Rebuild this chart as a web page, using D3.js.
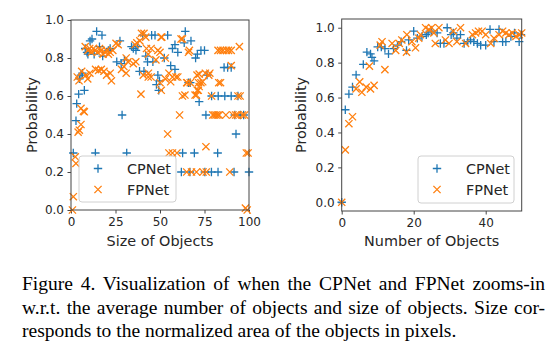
<!DOCTYPE html>
<html><head><meta charset="utf-8">
<script src="https://cdn.jsdelivr.net/npm/d3@7"></script>
<style>body{margin:0;background:#fff} svg{display:block}</style>
</head><body><svg id="c" width="557" height="350"></svg>
<script>
// ---------- DATA ----------
const seriesNames = ["CPNet", "FPNet"];
const sizeTicksX = [0, 25, 50, 75, 100];
const numTicksX = [0, 20, 40];
const probTicks = [0, 0.2, 0.4, 0.6, 0.8, 1.0];

// Left panel: Size of Objects vs Probability
const sizeCPNet = [[2.8,0.47],[3.2,0.56],[4.3,0.61],[7.5,0.63],[4.7,0.69],[5.6,0.71],[6.4,0.72],[8,0.85],[9,0.83],[9.5,0.82],
[10.7,0.89],[11.8,0.90],[14.4,0.94],[17.4,0.92],[13,0.82],[16,0.86],[17.8,0.81],[21,0.84],[22,0.85],[25.7,0.78],
[28.2,0.77],[27.5,0.89],[28.7,0.50],[30,0.79],[34,0.86],[35,0.85],[36.5,0.84],[37.5,0.86],[38.5,0.73],[41,0.73],
[40.3,0.92],[42,0.81],[43,0.78],[45.3,0.92],[47.2,0.92],[46,0.78],[48,0.66],[49.3,0.63],[48.8,0.71],[49.7,0.68],
[52.4,0.80],[54.3,0.92],[56,0.76],[57,0.85],[58.4,0.87],[58.4,0.74],[60,0.83],[63.6,0.88],[64.2,0.94],[66,0.67],
[67,0.67],[67.4,0.89],[70,0.80],[71,0.82],[72,0.57],[73,0.84],[75,0.84],[76.4,0.71],[79,0.60],[82.7,0.60],
[86.4,0.60],[90,0.60],[93.8,0.60],[86,0.75],[88,0.75],[90,0.75],[75.8,0.50],[92,0.50],[95.2,0.50],[97,0.50],
[92.7,0.40],[1.3,0.30],[13.7,0.30],[31.3,0.30],[62.7,0.30],[69.3,0.30],[82.4,0.30],[62,0.20],[66.8,0.20],[75.2,0.20],
[78.9,0.20],[82.6,0.20],[91.6,0.20],[100,0.20]];

const sizeFPNet = [[0.8,0.0],[1.3,0.07],[2.4,0.28],[2.8,0.245],[4,0.41],[4.7,0.42],[5.6,0.45],[7,0.52],[5.6,0.535],[7.5,0.517],
[3.5,0.70],[4.5,0.68],[6,0.73],[8.4,0.71],[9.4,0.69],[10.6,0.72],
[8,0.86],[9.5,0.84],[10.5,0.85],[11.5,0.83],[12.5,0.85],[13.5,0.84],[15,0.83],[16,0.85],[17,0.84],[18,0.82],[19,0.83],[20,0.84],[21,0.82],[22,0.83],[23.5,0.84],
[13.8,0.74],[15.5,0.735],[17,0.74],[18.5,0.73],[20,0.71],[22,0.72],[22.7,0.68],[25.3,0.877],[26.5,0.87],[28.4,0.74],
[29.7,0.755],[31,0.72],[31,0.80],[32,0.78],[35,0.77],[36.4,0.78],[36,0.87],[37,0.88],[38.7,0.89],[39.6,0.93],
[41,0.93],[42,0.91],[42.4,0.85],[43.4,0.82],[45,0.85],[39.3,0.61],[40.6,0.71],[43.4,0.70],[43.5,0.72],[45,0.70],
[47.7,0.79],[50,0.83],[50.6,0.91],[51,0.91],[48.8,0.84],[50,0.67],[50.7,0.63],[53,0.80],[53,0.69],[55,0.72],
[56,0.675],[57,0.70],[59,0.70],[60,0.70],[61.8,0.90],[62.6,0.90],[66.5,0.84],[66,0.83],[61,0.50],[62.6,0.60],
[64,0.605],[65,0.67],[65.3,0.67],[67,0.67],[69.7,0.605],[70.5,0.605],[71,0.63],[71.5,0.63],[72,0.65],[71.7,0.67],
[73,0.67],[74,0.675],[70.8,0.71],[72,0.715],[75.5,0.72],[77.4,0.71],[78,0.72],[79,0.60],[83,0.67],[84,0.67],
[82.6,0.84],[84,0.84],[85.4,0.84],[87.3,0.84],[88.5,0.84],[90,0.84],[94.6,0.86],[90,0.76],[93.8,0.60],[95,0.60],
[79.6,0.50],[80.5,0.50],[81.5,0.50],[82.5,0.50],[83.3,0.50],[87,0.50],[91,0.50],[92.5,0.50],[93.5,0.50],[96.3,0.50],[97.5,0.50],
[54.3,0.40],[55,0.30],[57,0.30],[59.5,0.30],[75.8,0.333],[98.5,0.30],[99.5,0.30],
[65,0.20],[67.7,0.20],[70.5,0.20],[74.2,0.20],[76,0.20],[89.2,0.20],[98,0.01],[99,0.0]];

// Right panel: Number of Objects vs Probability
const numCPNet = [[0,0],[1,0.53],[2,0.62],[3,0.66],[4,0.73],[6,0.79],[7,0.86],[8,0.85],[8.4,0.83],[9,0.81],
[10,0.89],[11,0.89],[12,0.88],[13,0.85],[14.4,0.88],[15.5,0.90],[16.5,0.92],[18,0.87],[18.6,0.93],[20,0.98],
[21,0.94],[22.3,0.95],[23.5,0.96],[24,0.97],[25,0.98],[26.5,0.97],[27.4,0.91],[28.4,0.91],[29.3,1.0],[30.4,0.96],
[31,0.97],[32,0.94],[33,0.96],[34,0.91],[35,0.92],[35.8,0.93],[36.7,0.92],[37.7,0.91],[38.6,0.90],[40,0.90],
[41.2,0.99],[42.3,0.92],[43.7,0.99],[44.7,0.92],[45.6,0.92],[47,0.95],[48,0.97],[49.3,0.92],[49.8,0.96]];

const numFPNet = [[0,0],[1,0.30],[2,0.45],[3,0.49],[4,0.65],[5,0.69],[5.6,0.63],[6.8,0.66],[8,0.65],[9,0.67],
[7.7,0.78],[10.7,0.90],[11.2,0.92],[12,0.76],[14,0.91],[15,0.87],[16,0.91],[16.7,0.93],[18,0.86],[18.1,0.96],
[19.5,0.92],[20.5,0.885],[21.4,0.94],[21.9,0.96],[23.3,1.0],[24.2,0.99],[25,1.0],[25.6,0.97],[26,0.91],[27,1.0],
[28.8,0.93],[29.8,0.91],[31,0.98],[33,1.0],[32,0.92],[34.4,0.91],[36.3,0.96],[37.2,0.97],[38,0.98],[39,0.98],
[40,0.96],[41.4,0.91],[42.3,0.94],[43.7,0.96],[44.7,0.98],[45.6,0.97],[46.5,0.96],[47.4,0.97],[48.4,0.95],[49.3,0.96],[50,0.97]];

const captionLines = [
  "Figure 4. Visualization of when the CPNet and FPNet zooms-in",
  "w.r.t. the average number of objects and size of objects. Size cor-",
  "responds to the normalized area of the objects in pixels."
];

// ---------- DRAW ----------
const svg = d3.select("#c");
const colors = ["#1f77b4", "#ff7f0e"];
const plusPath = "M-4.2,0H4.2M0,-4.2V4.2";
const crossPath = "M-3.6,-3.6L3.6,3.6M-3.6,3.6L3.6,-3.6";
const font = "DejaVu Sans, sans-serif";

function panel(o) {
  const x = d3.scaleLinear().domain(o.xDomain).range([o.left, o.right]);
  const y = d3.scaleLinear().domain(o.yDomain).range([o.bottom, o.top]);
  const g = svg.append("g");

  const ax = g.append("g").attr("transform", `translate(0,${o.bottom})`)
    .call(d3.axisBottom(x).tickValues(o.xTicks).tickSize(3.5).tickPadding(3.5).tickFormat(d3.format("d")));
  const ay = g.append("g").attr("transform", `translate(${o.left},0)`)
    .call(d3.axisLeft(y).tickValues(probTicks).tickSize(3.5).tickPadding(3.5).tickFormat(d3.format(".1f")));
  [ax, ay].forEach(a => {
    a.select(".domain").remove();
    a.selectAll("line").attr("stroke", "#333").attr("stroke-width", 0.9);
    a.selectAll("text").attr("fill", "#262626").style("font-family", font).style("font-size", "12px");
  });

  const pts = g.append("g");
  [o.cp, o.fp].forEach((data, i) => {
    pts.selectAll(null).data(data).enter().append("path")
      .attr("d", i === 0 ? plusPath : crossPath)
      .attr("transform", d => `translate(${x(d[0])},${y(d[1])})`)
      .attr("fill", "none").attr("stroke", colors[i]).attr("stroke-width", 1.3);
  });

  g.append("rect").attr("x", o.left).attr("y", o.top)
    .attr("width", o.right - o.left).attr("height", o.bottom - o.top)
    .attr("fill", "none").attr("stroke", "#444").attr("stroke-width", 1);

  // legend
  const L = o.legend;
  const lg = g.append("g");
  lg.append("rect").attr("x", L.x).attr("y", L.y).attr("width", L.w).attr("height", L.h)
    .attr("rx", 3).attr("fill", "white").attr("fill-opacity", 0.8)
    .attr("stroke", "#d0d0d0").attr("stroke-width", 1);
  seriesNames.forEach((n, i) => {
    const yy = L.y + 12.5 + i * 21;
    lg.append("path").attr("d", i === 0 ? plusPath : crossPath)
      .attr("transform", `translate(${L.x + 19},${yy})`)
      .attr("fill", "none").attr("stroke", colors[i]).attr("stroke-width", 1.3);
    lg.append("text").attr("x", L.x + 48).attr("y", yy).attr("dy", "0.36em")
      .attr("fill", "#262626").style("font-family", font).style("font-size", "14.4px").text(n);
  });

  g.append("text").attr("x", (o.left + o.right) / 2).attr("y", 246)
    .attr("text-anchor", "middle").attr("fill", "#262626")
    .style("font-family", font).style("font-size", "14.4px").text(o.xLabel);
  g.append("text").attr("transform", `translate(${o.ylabX},${(o.top + o.bottom) / 2}) rotate(-90)`)
    .attr("text-anchor", "middle").attr("fill", "#262626")
    .style("font-family", font).style("font-size", "14.4px").text("Probability");
}

panel({ left: 71, right: 249, top: 20, bottom: 210, xDomain: [0, 100], yDomain: [0, 1],
  xTicks: sizeTicksX, xLabel: "Size of Objects", ylabX: 37, cp: sizeCPNet, fp: sizeFPNet,
  legend: { x: 79, y: 156, w: 97, h: 46 } });
panel({ left: 341.7, right: 521.7, top: 19, bottom: 211, xDomain: [0, 50], yDomain: [-0.05, 1.05],
  xTicks: numTicksX, xLabel: "Number of Objects", ylabX: 306, cp: numCPNet, fp: numFPNet,
  legend: { x: 418, y: 156, w: 96, h: 47 } });

// caption (word-justified first two lines)
const capX0 = 22, capX1 = 545;
captionLines.forEach((t, i) => {
  const tx = svg.append("text").attr("x", capX0).attr("y", 290 + i * 23.5)
    .attr("fill", "#000").style("font-family", "Liberation Serif, Times New Roman, serif")
    .style("font-size", "19.5px").style("white-space", "pre").text(t);
  if (i < 2) {
    const w = tx.node().getComputedTextLength();
    const spaces = (t.match(/ /g) || []).length;
    if (spaces > 0) tx.style("word-spacing", ((capX1 - capX0 - w) / spaces) + "px");
  }
});
</script></body></html>
